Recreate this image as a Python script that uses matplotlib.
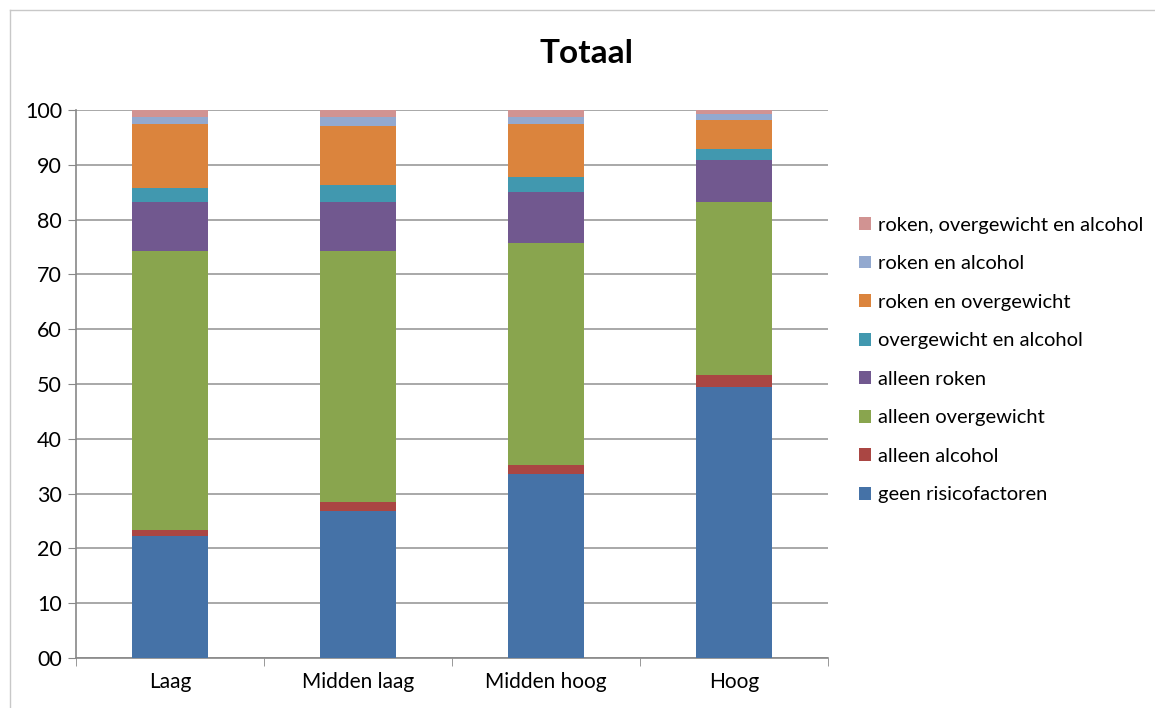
import matplotlib.pyplot as plt
from matplotlib.lines import Line2D
import numpy as np

plt.rcParams['font.family'] = ['Lato', 'DejaVu Sans']

categories = ["Laag", "Midden laag", "Midden hoog", "Hoog"]
series_names = ["geen risicofactoren", "alleen alcohol", "alleen overgewicht",
                "alleen roken", "overgewicht en alcohol", "roken en overgewicht",
                "roken en alcohol", "roken, overgewicht en alcohol"]
geen = [22.3, 26.8, 33.5, 49.5]
alcohol = [1.1, 1.6, 1.7, 2.1]
overgewicht = [50.9, 45.9, 40.5, 31.6]
roken = [9.0, 8.9, 9.3, 7.7]
overg_alc = [2.5, 3.1, 2.8, 2.0]
roken_overg = [11.6, 10.8, 9.6, 5.2]
roken_alc = [1.4, 1.6, 1.4, 1.2]
alle_drie = [1.2, 1.3, 1.2, 0.7]
colors = ["#4572A7", "#AA4643", "#89A54E", "#71588F",
          "#4198AF", "#DB843D", "#93A9CF", "#D19392"]

values = [geen, alcohol, overgewicht, roken, overg_alc, roken_overg, roken_alc, alle_drie]

fig = plt.figure(figsize=(11.55, 7.08), dpi=100)
ax = fig.add_axes([0.0658, 0.0706, 0.651, 0.774])

x = np.arange(len(categories))
bottom = np.zeros(len(categories))
handles = []
for name, vals, c in zip(series_names, values, colors):
    b = ax.bar(x, vals, width=0.4, bottom=bottom, color=c, label=name, zorder=3)
    bottom += np.array(vals)
    handles.append(b)

ax.set_xlim(-0.5, 3.5)
ax.set_ylim(0, 100)
ax.set_yticks(range(0, 101, 10))
ax.set_yticklabels(["00"] + [str(v) for v in range(10, 101, 10)], fontsize=15.5)
ax.set_xticks(x)
ax.set_xticklabels(categories, fontsize=15)
ax.tick_params(axis='x', length=0, pad=10)
ax.set_xticks(np.arange(-0.5, 4, 1), minor=True)
ax.tick_params(axis='x', which='minor', length=6, color='#888888')
ax.tick_params(axis='y', length=6, color='#888888', pad=4)
ax.grid(axis='y', color='#999999', linewidth=1.2, zorder=0)
for s in ['top', 'right']:
    ax.spines[s].set_visible(False)
for s in ['left', 'bottom']:
    ax.spines[s].set_color('#888888')
    ax.spines[s].set_linewidth(1.2)

fig.text(0.508, 0.924, "Totaal", fontsize=24, fontweight='bold', ha='center', va='center')

ax.legend(handles[::-1], series_names[::-1], loc='center left',
          bbox_to_anchor=(0.728, 0.4915), bbox_transform=fig.transFigure,
          frameon=False, fontsize=14.5, labelspacing=1.07,
          handlelength=0.6, handleheight=0.6, handletextpad=0.35)

# outer frame
fig.add_artist(Line2D([10 / 1155, 10 / 1155], [0, 1 - 10 / 708], color='#c8c8c8', lw=1, transform=fig.transFigure))
fig.add_artist(Line2D([10 / 1155, 1], [1 - 10 / 708, 1 - 10 / 708], color='#c8c8c8', lw=1, transform=fig.transFigure))

fig.savefig("out.png", dpi=100)
